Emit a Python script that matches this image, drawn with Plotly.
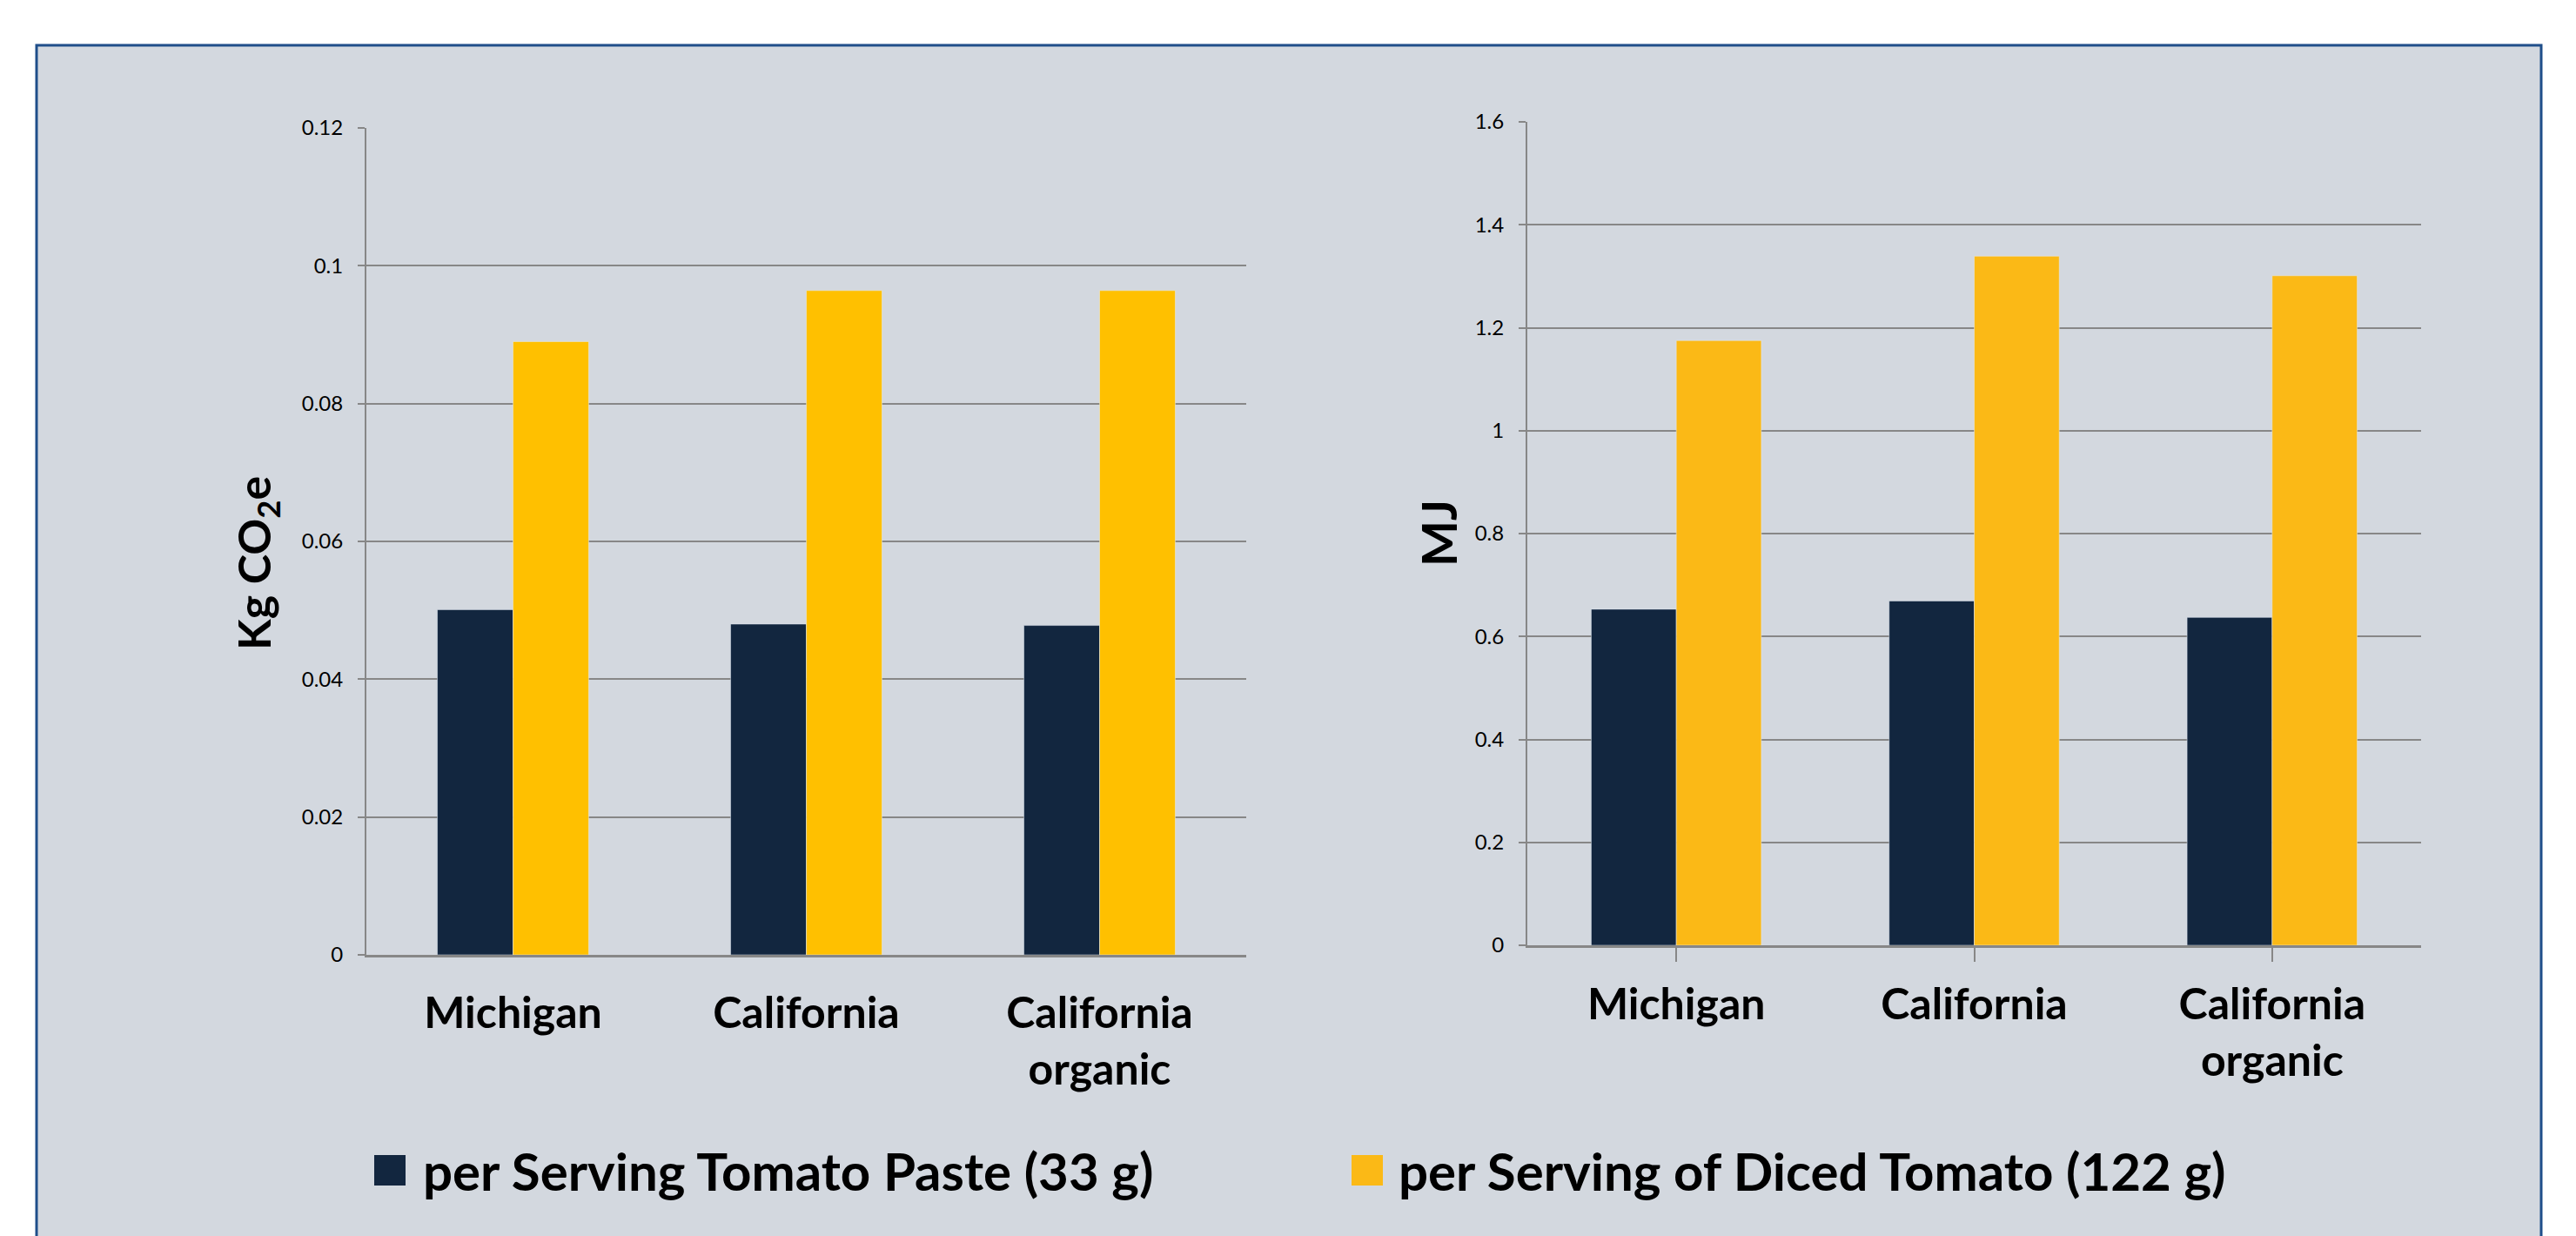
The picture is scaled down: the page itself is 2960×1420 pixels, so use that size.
import plotly.graph_objects as go

W, H = 2960, 1420

categories = ["Michigan", "California", "California organic"]
category_labels = ["Michigan", "California", "California<br>organic"]
series_names = ["per Serving Tomato Paste (33 g)", "per Serving of Diced Tomato (122 g)"]

co2_paste = [0.0501, 0.0480, 0.0478]
co2_diced = [0.0890, 0.0964, 0.0964]
mj_paste = [0.653, 0.669, 0.637]
mj_diced = [1.175, 1.339, 1.301]

co2_ticks = [0, 0.02, 0.04, 0.06, 0.08, 0.1, 0.12]
co2_ticktext = ["0", "0.02", "0.04", "0.06", "0.08", "0.1", "0.12"]
mj_ticks = [0, 0.2, 0.4, 0.6, 0.8, 1.0, 1.2, 1.4, 1.6]
mj_ticktext = ["0", "0.2", "0.4", "0.6", "0.8", "1", "1.2", "1.4", "1.6"]

NAVY = "#12263F"
GOLD_L = "#FFC000"
GOLD_R = "#FBB916"
BG = "#D3D8DF"
GRID = "#878787"
BORDER = "#1F4E8A"
FONT = "Lato"


def px_x(p):
    return p / W


def px_y(p):
    return 1 - p / H


fig = go.Figure()

xi = list(range(len(categories)))
wl = 0.258
wr = 0.2855
fig.add_trace(go.Bar(x=xi, y=co2_paste, name=series_names[0], marker_color=NAVY,
                     width=wl, offset=-wl, xaxis="x", yaxis="y", showlegend=False))
fig.add_trace(go.Bar(x=xi, y=co2_diced, name=series_names[1], marker_color=GOLD_L,
                     width=wl, offset=0, xaxis="x", yaxis="y", showlegend=False))
fig.add_trace(go.Bar(x=xi, y=mj_paste, name=series_names[0], marker_color=NAVY,
                     width=wr, offset=-wr, xaxis="x2", yaxis="y2", showlegend=False))
fig.add_trace(go.Bar(x=xi, y=mj_diced, name=series_names[1], marker_color=GOLD_R,
                     width=wr, offset=0, xaxis="x2", yaxis="y2", showlegend=False))

yax_common = dict(
    showgrid=True, gridcolor=GRID, gridwidth=2,
    showline=True, linecolor=GRID, linewidth=2,
    ticks="outside", ticklen=8, tickwidth=2, tickcolor=GRID,
    tickfont=dict(family=FONT, size=24, color="black"),
    ticklabelstandoff=12, zeroline=False, fixedrange=True, automargin=False,
)
xax_common = dict(
    showgrid=False, showline=True, linecolor=GRID, linewidth=3,
    tickmode="array", tickvals=xi, ticktext=category_labels,
    tickfont=dict(family=FONT, size=50, color="black", weight="bold"),
    range=[-0.5, 2.5], zeroline=False, fixedrange=True, automargin=False,
)

fig.update_layout(
    width=W, height=H,
    margin=dict(l=0, r=0, t=0, b=0, autoexpand=False),
    paper_bgcolor="white",
    plot_bgcolor="rgba(0,0,0,0)",
    barmode="overlay",
    showlegend=False,
    xaxis=dict(domain=[px_x(421), px_x(1432)], anchor="y", ticks="",
               ticklabelstandoff=21, **xax_common),
    yaxis=dict(domain=[px_y(1097), px_y(147)], anchor="x", range=[0, 0.12],
               tickmode="array", tickvals=co2_ticks, ticktext=co2_ticktext, **yax_common),
    xaxis2=dict(domain=[px_x(1755), px_x(2782)], anchor="y2", ticks="outside",
                tickson="boundaries", ticklen=16, tickwidth=2, tickcolor=GRID,
                ticklabelstandoff=6, **xax_common),
    yaxis2=dict(domain=[px_y(1086), px_y(140)], anchor="x2", range=[0, 1.6],
                tickmode="array", tickvals=mj_ticks, ticktext=mj_ticktext, **yax_common),
)

# background panel with border
fig.add_shape(type="rect", xref="paper", yref="paper",
              x0=px_x(42), x1=px_x(2920), y0=px_y(52), y1=px_y(1450),
              fillcolor=BG, line=dict(color=BORDER, width=3), layer="below")

# axis titles
fig.add_annotation(xref="paper", yref="paper", x=px_x(258), y=px_y(647),
                   text="Kg CO<sub>2</sub>e", textangle=-90, showarrow=False,
                   font=dict(family=FONT, size=52, color="black", weight="bold"))
fig.add_annotation(xref="paper", yref="paper", x=px_x(1652), y=px_y(613),
                   text="MJ", textangle=-90, showarrow=False,
                   font=dict(family=FONT, size=56, color="black", weight="bold"))

# legend (drawn manually for large swatches)
legend_colors = [NAVY, GOLD_R]
legend_sq_x = [430, 1553]
legend_text_x = [484, 1605]
for name, col, sx, tx in zip(series_names, legend_colors, legend_sq_x, legend_text_x):
    fig.add_shape(type="rect", xref="paper", yref="paper",
                  x0=px_x(sx), x1=px_x(sx + 36), y0=px_y(1362), y1=px_y(1327),
                  fillcolor=col, line=dict(width=0))
    fig.add_annotation(xref="paper", yref="paper", x=px_x(tx), y=px_y(1345),
                       xanchor="left", yanchor="middle", text=name, showarrow=False,
                       font=dict(family=FONT, size=60, color="black", weight="bold"))

fig.write_html("out.html")
